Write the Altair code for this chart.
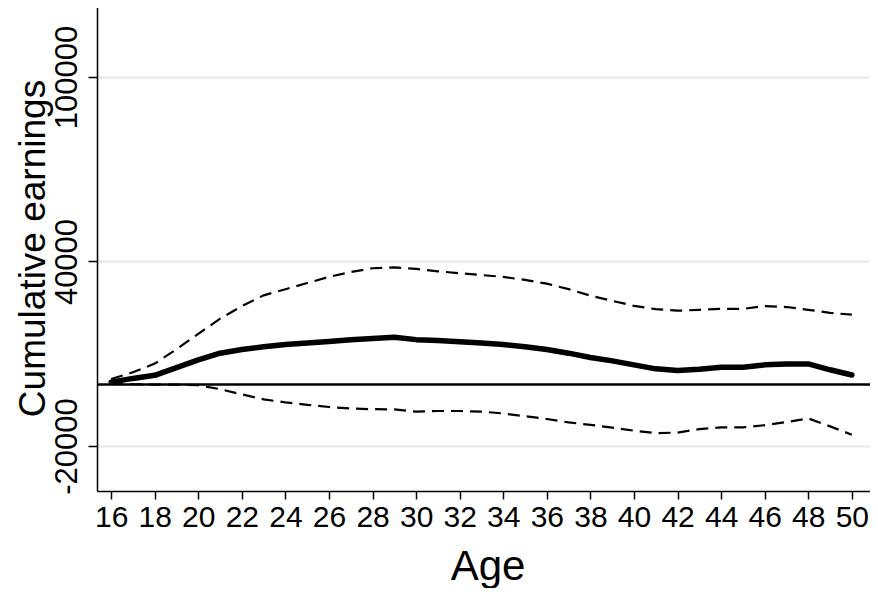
import altair as alt
import pandas as pd

ages = list(range(16, 51))
mean_vals = [800, 2000, 3000, 5500, 8000, 10200, 11400, 12300, 13000, 13500,
             14000, 14600, 15000, 15400, 14600, 14300, 13900, 13500, 13000, 12300,
             11400, 10200, 8800, 7700, 6400, 5100, 4600, 5000, 5600, 5600,
             6400, 6700, 6700, 4800, 3100]
upper_vals = [1800, 4000, 6800, 11500, 16500, 21400, 25500, 29000, 31000, 33000,
              35000, 36600, 37800, 38100, 37600, 36800, 36200, 35600, 35000, 34000,
              32800, 31000, 28900, 27200, 25600, 24500, 24000, 24300, 24600, 24600,
              25500, 25200, 24300, 23300, 22700]
lower_vals = [200, 100, 0, 0, -200, -1500, -3200, -4800, -5800, -6600,
              -7300, -7800, -8000, -8100, -8800, -8600, -8600, -8800, -9400, -10300,
              -11200, -12300, -13100, -14000, -15000, -15800, -15600, -14500, -13900, -13900,
              -13200, -12200, -11000, -13600, -16300]
y_ticks = [-20000, 40000, 100000]
x_ticks = list(range(16, 51, 2))

df = pd.DataFrame({"Age": ages, "mean": mean_vals, "upper": upper_vals, "lower": lower_vals})
zero_df = pd.DataFrame({"y": [0]})

FONT = "Liberation Sans"

x_enc = alt.X(
    "Age:Q",
    scale=alt.Scale(domain=[15.35, 51.2], nice=False, zero=False),
    axis=alt.Axis(values=x_ticks, title="Age", grid=False, format="d",
                  tickSize=8, labelPadding=3, labelFontSize=30,
                  titleFontSize=42, titleBaseline="alphabetic", titleY=88),
)
y_scale = alt.Scale(domain=[-34600, 125000], nice=False, zero=False)
y_axis = alt.Axis(values=y_ticks, title="Cumulative earnings", grid=True,
                  labelExpr="'' + datum.value",
                  tickSize=9, labelAngle=270, labelAlign="center",
                  labelBaseline="alphabetic", labelPadding=12, labelFontSize=31,
                  titleFontSize=37, titleAngle=270, titleAlign="center",
                  titleBaseline="alphabetic", titleX=-53, titleY=248)

base = alt.Chart(df)

zero = alt.Chart(zero_df).mark_rule(color="black", strokeWidth=2.5).encode(
    y=alt.Y("y:Q", scale=y_scale, axis=y_axis)
)
upper = base.mark_line(color="black", strokeWidth=2.2, strokeDash=[12, 7]).encode(
    x=x_enc, y=alt.Y("upper:Q", scale=y_scale, axis=y_axis)
)
lower = base.mark_line(color="black", strokeWidth=2.2, strokeDash=[12, 7]).encode(
    x=x_enc, y=alt.Y("lower:Q", scale=y_scale, axis=y_axis)
)
mean = base.mark_line(color="black", strokeWidth=5.5, strokeCap="round", strokeJoin="round").encode(
    x=x_enc, y=alt.Y("mean:Q", scale=y_scale, axis=y_axis)
)

chart = alt.layer(zero, upper, lower, mean).properties(
    width=781, height=491,
    padding={"left": 89, "top": -8, "right": -8, "bottom": 97},
    autosize=alt.AutoSizeParams(type="none"),
).configure_view(stroke="transparent").configure_axis(
    labelFont=FONT, titleFont=FONT, labelColor="black", titleColor="black",
    titleFontWeight="normal", domainColor="black", domainWidth=1.5,
    tickColor="black", tickWidth=1.5, gridColor="#e8e8e8", gridWidth=2,
)

chart.save("out.html", embed_options={"renderer": "svg", "actions": False})
